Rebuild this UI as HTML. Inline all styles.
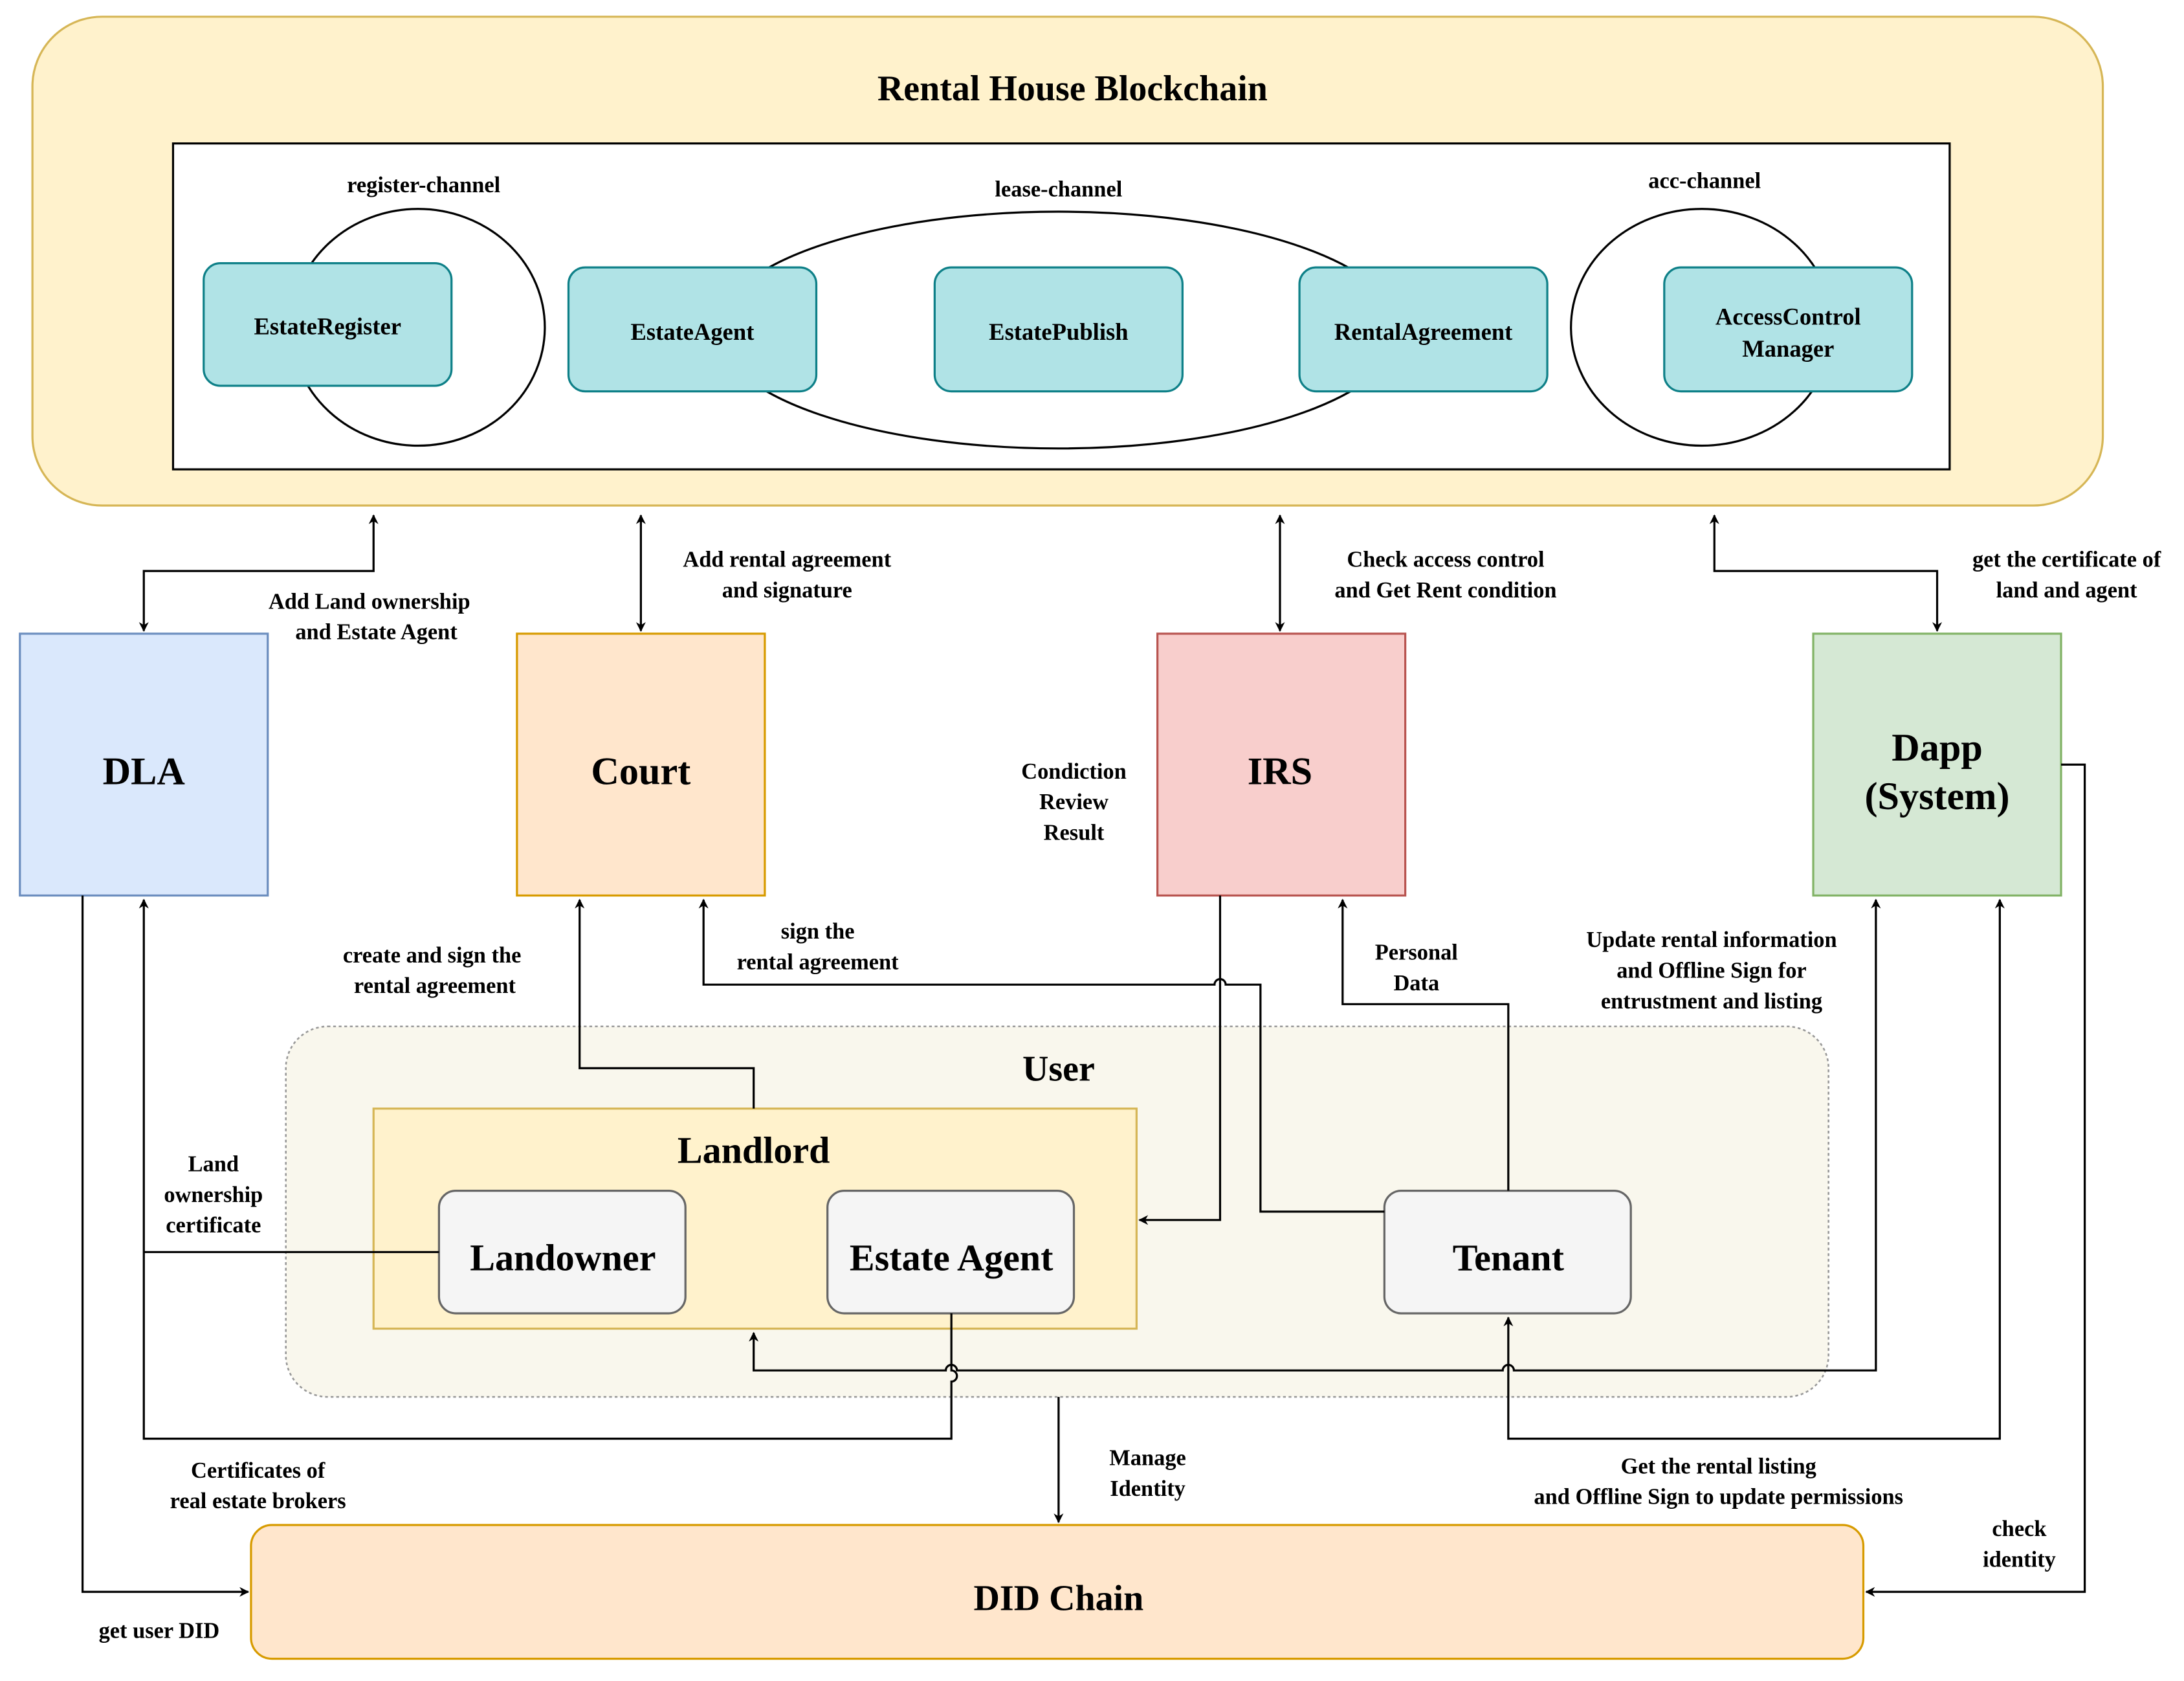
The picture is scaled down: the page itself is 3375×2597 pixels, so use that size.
<!DOCTYPE html>
<html><head><meta charset="utf-8"><style>
html,body{margin:0;padding:0;background:#fff;}
svg{display:block}
text{font-family:"Liberation Serif",serif;font-weight:bold;fill:#000;text-anchor:middle;}
</style></head><body>
<svg width="3375" height="2597" viewBox="0 0 1568 1207" xmlns="http://www.w3.org/2000/svg">
<defs>
<marker id="a" viewBox="0 0 10 10" refX="9" refY="5" markerWidth="7" markerHeight="7" orient="auto-start-reverse" markerUnits="userSpaceOnUse">
<path d="M0,0 L10,5 L0,10 L3,5 z" fill="#000"/></marker>
</defs>
<rect x="0" y="0" width="1568" height="1207" fill="#fff"/>
<!-- blockchain -->
<rect x="23" y="12" width="1487" height="351" rx="50" fill="#fff2cc" stroke="#d6b656" stroke-width="1.5"/>
<text x="770" y="72" font-size="26">Rental House Blockchain</text>
<rect x="124" y="103" width="1276" height="234" fill="#fff" stroke="#000" stroke-width="1.5"/>
<text x="304" y="138" font-size="16">register-channel</text>
<text x="760" y="141" font-size="16">lease-channel</text>
<text x="1224" y="135" font-size="16">acc-channel</text>
<g fill="none" stroke="#000" stroke-width="1.5">
<ellipse cx="300" cy="235" rx="91" ry="85"/>
<ellipse cx="760" cy="237" rx="245" ry="85"/>
<ellipse cx="1222" cy="235" rx="94" ry="85"/>
</g>
<g fill="#b0e3e6" stroke="#0e8088" stroke-width="1.5">
<rect x="146" y="189" width="178" height="88" rx="12"/>
<rect x="408" y="192" width="178" height="89" rx="12"/>
<rect x="671" y="192" width="178" height="89" rx="12"/>
<rect x="933" y="192" width="178" height="89" rx="12"/>
<rect x="1195" y="192" width="178" height="89" rx="12"/>
</g>
<g font-size="17">
<text x="235" y="240">EstateRegister</text>
<text x="497" y="244">EstateAgent</text>
<text x="760" y="244">EstatePublish</text>
<text x="1022" y="244">RentalAgreement</text>
<text x="1284" y="233">AccessControl</text>
<text x="1284" y="256">Manager</text>
</g>
<!-- boxes -->
<rect x="14" y="455" width="178" height="188" fill="#dae8fc" stroke="#6c8ebf" stroke-width="1.5"/>
<rect x="371" y="455" width="178" height="188" fill="#ffe6cc" stroke="#d79b00" stroke-width="1.5"/>
<rect x="831" y="455" width="178" height="188" fill="#f8cecc" stroke="#b85450" stroke-width="1.5"/>
<rect x="1302" y="455" width="178" height="188" fill="#d5e8d4" stroke="#82b366" stroke-width="1.5"/>
<g font-size="28">
<text x="103" y="563">DLA</text>
<text x="460" y="563">Court</text>
<text x="919" y="563">IRS</text>
<text x="1391" y="546">Dapp</text>
<text x="1391" y="581">(System)</text>
</g>
<!-- user -->
<rect x="205" y="737" width="1108" height="266" rx="30" fill="#f9f7ed" stroke="#999" stroke-width="1.2" stroke-dasharray="2,2"/>
<text x="760" y="776" font-size="26">User</text>
<rect x="268" y="796" width="548" height="158" fill="#fff2cc" stroke="#d6b656" stroke-width="1.5"/>
<text x="541" y="835" font-size="27">Landlord</text>
<g fill="#f5f5f5" stroke="#666" stroke-width="1.5">
<rect x="315" y="855" width="177" height="88" rx="12"/>
<rect x="594" y="855" width="177" height="88" rx="12"/>
<rect x="994" y="855" width="177" height="88" rx="12"/>
</g>
<g font-size="27" fill="#333">
<text x="404" y="912">Landowner</text>
<text x="683" y="912">Estate Agent</text>
<text x="1083" y="912">Tenant</text>
</g>
<rect x="180" y="1095" width="1158" height="96" rx="15" fill="#ffe6cc" stroke="#d79b00" stroke-width="1.5"/>
<text x="760" y="1156" font-size="26">DID Chain</text>
<!-- connectors -->
<g fill="none" stroke="#000" stroke-width="1.5">
<path d="M103,453 V410 H268 V370" marker-start="url(#a)" marker-end="url(#a)"/>
<path d="M460,453 V370" marker-start="url(#a)" marker-end="url(#a)"/>
<path d="M919,453 V370" marker-start="url(#a)" marker-end="url(#a)"/>
<path d="M1391,453 V410 H1231 V370" marker-start="url(#a)" marker-end="url(#a)"/>
<path d="M59,643 V1143 H178" marker-end="url(#a)"/>
<path d="M315,899 H103"/>
<path d="M683,943 V984 a4,4 0 0 1 0,8 V1033 H103 V646" marker-end="url(#a)"/>
<path d="M541,796 V767 H416 V646" marker-end="url(#a)"/>
<path d="M994,870 H905 V707 H880 a4,4 0 0 0 -8,0 H505 V646" marker-end="url(#a)"/>
<path d="M876,643 V876 H818" marker-end="url(#a)"/>
<path d="M1083,855 V721 H964 V646" marker-end="url(#a)"/>
<path d="M1347,646 V984 H1087 a4,4 0 0 0 -8,0 H687 a4,4 0 0 0 -8,0 H541 V957" marker-start="url(#a)" marker-end="url(#a)"/>
<path d="M1436,646 V1033 H1083 V946" marker-start="url(#a)" marker-end="url(#a)"/>
<path d="M1480,549 H1497 V1143 H1340" marker-end="url(#a)"/>
<path d="M760,1003 V1093" marker-end="url(#a)"/>
</g>
<!-- labels -->
<g font-size="16">
<text x="265" y="437">Add Land ownership</text><text x="270" y="459">and Estate Agent</text>
<text x="565" y="407">Add rental agreement</text><text x="565" y="429">and signature</text>
<text x="1038" y="407">Check access control</text><text x="1038" y="429">and Get Rent condition</text>
<text x="1484" y="407">get the certificate of</text><text x="1484" y="429">land and agent</text>
<text x="771" y="559">Condiction</text><text x="771" y="581">Review</text><text x="771" y="603">Result</text>
<text x="310" y="691">create and sign the</text><text x="312" y="713">rental agreement</text>
<text x="587" y="674">sign the</text><text x="587" y="696">rental agreement</text>
<text x="1017" y="689">Personal</text><text x="1017" y="711">Data</text>
<text x="1229" y="680">Update rental information</text><text x="1229" y="702">and Offline Sign for</text><text x="1229" y="724">entrustment and listing</text>
<text x="153" y="841">Land</text><text x="153" y="863">ownership</text><text x="153" y="885">certificate</text>
<text x="185" y="1061">Certificates of</text><text x="185" y="1083">real estate brokers</text>
<text x="824" y="1052">Manage</text><text x="824" y="1074">Identity</text>
<text x="1234" y="1058">Get the rental listing</text><text x="1234" y="1080">and Offline Sign to update permissions</text>
<text x="1450" y="1103">check</text><text x="1450" y="1125">identity</text>
<text x="114" y="1176">get user DID</text>
</g>
</svg>
</body></html>
